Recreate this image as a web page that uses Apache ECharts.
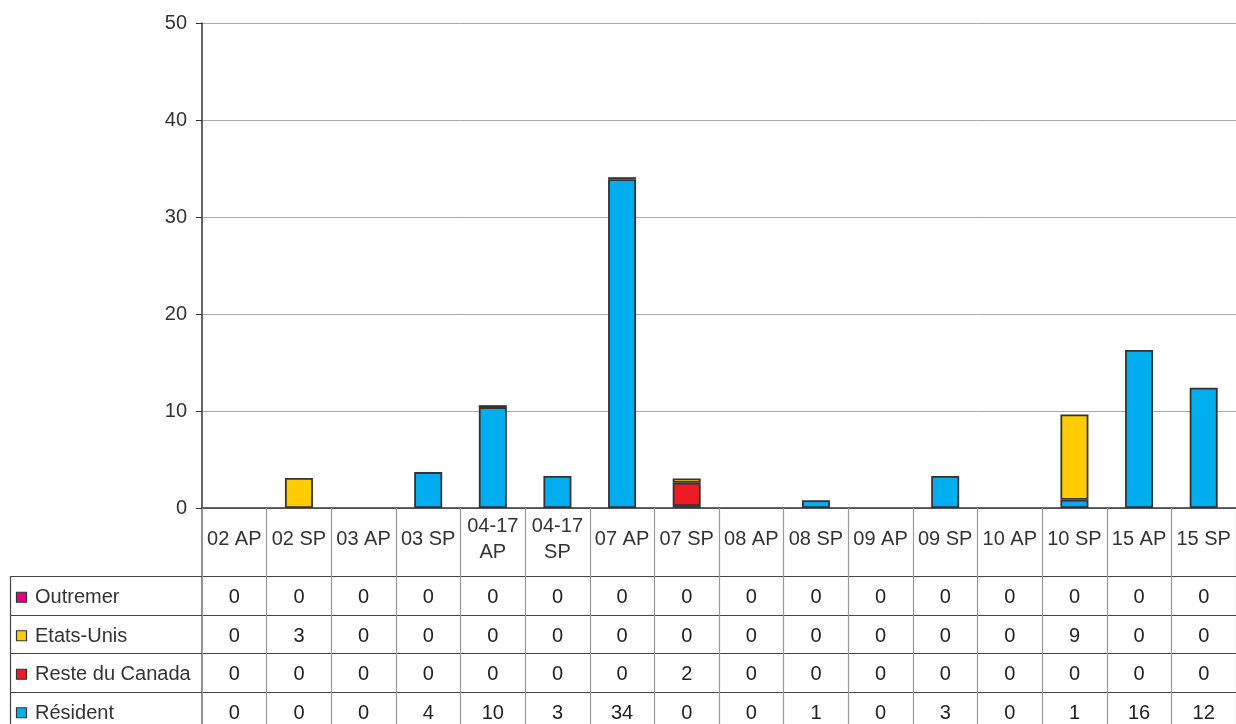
<!DOCTYPE html>
<html><head><meta charset="utf-8">
<script src="https://cdn.jsdelivr.net/npm/echarts@6/dist/echarts.min.js"></script>
<style>html,body{margin:0;padding:0;background:#fff}#c{width:1236px;height:724px}</style>
</head><body><div id="c"></div><script>
const categories = ['02 AP','02 SP','03 AP','03 SP','04-17 AP','04-17 SP','07 AP','07 SP','08 AP','08 SP','09 AP','09 SP','10 AP','10 SP','15 AP','15 SP'];
const resident    = [0, 0,   0, 3.7, 10.4, 3.3, 33.9, 0.2,  0, 0.8, 0, 3.3, 0, 0.85, 16.3, 12.4];
const resteCanada = [0, 0,   0, 0,   0,    0,   0,    2.4,  0, 0,   0, 0,   0, 0,    0,    0];
const etatsUnis   = [0, 3.1, 0, 0,   0,    0,   0,    0.45, 0, 0,   0, 0,   0, 8.8,  0,    0];
const outremer    = [0, 0,   0, 0,   0.2,  0,   0.2,  0,    0, 0,   0, 0,   0, 0,    0,    0];
const yTicks = [0, 10, 20, 30, 40, 50];

const seriesDefs = [
  {name:'Résident', data:resident, color:'#00AEEF'},
  {name:'Reste du Canada', data:resteCanada, color:'#ED1C24'},
  {name:'Etats-Unis', data:etatsUnis, color:'#FFCC00'},
  {name:'Outremer', data:outremer, color:'#E6007E'}
];
const tableRows = [seriesDefs[3], seriesDefs[2], seriesDefs[1], seriesDefs[0]];
const FONT = 'Liberation Sans, Arial, sans-serif';
const FS = 20;

const chart = echarts.init(document.getElementById('c'));
chart.setOption({
  animation:false,
  grid:{left:202, top:23, width:1038, height:485, containLabel:false},
  xAxis:{
    type:'category', data:categories, boundaryGap:true,
    axisLine:{lineStyle:{color:'#333', width:1.5}},
    axisTick:{show:true, length:216, lineStyle:{color:'#999', width:1.2}},
    axisLabel:{
      interval:0, margin:31, verticalAlign:'middle', lineHeight:26,
      fontFamily:FONT, fontSize:FS, color:'#333',
      formatter:v => v.length > 5 ? v.replace(' ', '\n') : v
    }
  },
  yAxis:{
    type:'value', min:yTicks[0], max:yTicks[yTicks.length-1], interval:10,
    axisLine:{show:true, lineStyle:{color:'#333', width:1.5}},
    axisTick:{show:true, length:6, lineStyle:{color:'#333'}},
    axisLabel:{margin:15, fontFamily:FONT, fontSize:FS, color:'#333'},
    splitLine:{lineStyle:{color:'#aaa', width:1}}
  },
  series: seriesDefs.map(s => ({
    name:s.name, type:'bar', stack:'total', barWidth:28,
    data:s.data.map(v => v === 0 ? null : v),
    itemStyle:{color:s.color, borderColor:'#333', borderWidth:1.8}
  }))
});

// data table below the chart
const rowTop = 576, rowH = 38.5;
const g = [];
for (let i = 0; i <= 4; i++) {
  const y = Math.round(rowTop + i*rowH) + 0.5;
  g.push({type:'line', shape:{x1:10, y1:y, x2:1240, y2:y}, style:{stroke:'#444', lineWidth:1.2}});
}
g.push({type:'line', shape:{x1:10.5, y1:rowTop, x2:10.5, y2:724}, style:{stroke:'#444', lineWidth:1.2}});
g.push({type:'line', shape:{x1:202, y1:508, x2:202, y2:724}, style:{stroke:'#444', lineWidth:1.2}});
tableRows.forEach((s, r) => {
  const cy = rowTop + r*rowH + rowH/2 + 2.5;
  g.push({type:'rect', shape:{x:16.5, y:cy-5.5, width:10, height:10}, style:{fill:s.color, stroke:'#333', lineWidth:1.2}});
  g.push({type:'text', x:35, y:cy, style:{text:s.name, font:FS+'px '+FONT, fill:'#333', verticalAlign:'middle', align:'left'}});
  s.data.forEach((v, i) => {
    const x = chart.convertToPixel({xAxisIndex:0}, categories[i]);
    g.push({type:'text', x:x, y:cy, style:{text:String(Math.round(v)), font:FS+'px '+FONT, fill:'#222', verticalAlign:'middle', align:'center'}});
  });
});
chart.setOption({graphic:g});
</script></body></html>
